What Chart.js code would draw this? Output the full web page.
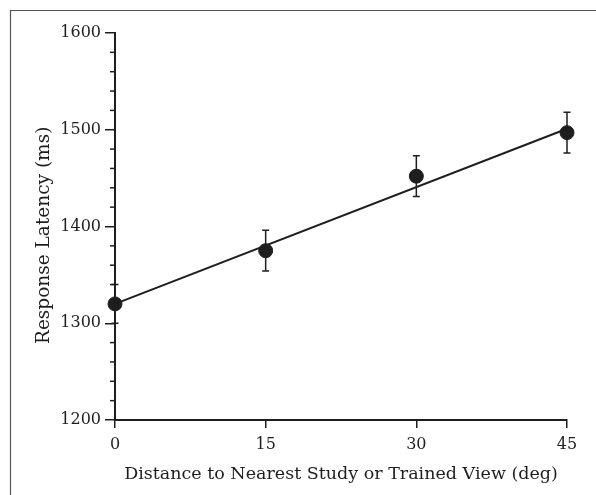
<!DOCTYPE html>
<html>
<head>
<meta charset="utf-8">
<script src="https://cdn.jsdelivr.net/npm/chart.js@4.4.0/dist/chart.umd.min.js"></script>
<style>
html,body{margin:0;padding:0;background:#fff;}
#wrap{width:596px;height:495px;position:relative;}
</style>
</head>
<body>
<div id="wrap"><canvas id="c" width="596" height="495"></canvas></div>
<script>
const distances = [0, 15, 30, 45];
const latencies = [1320, 1375, 1452, 1497];
const errors = [20, 21, 21, 21];
const fitX = [0, 45];
const fitY = [1320, 1501];
const xTicks = [0, 15, 30, 45];
const yMajorStep = 100;
const yMinorStep = 20;

const ink = '#1e1e1e';
const fontFamily = '"DejaVu Serif", "Liberation Serif", serif';

const errorBars = {
  id: 'errorBars',
  afterDatasetsDraw(chart) {
    const {ctx, scales: {x, y}} = chart;
    ctx.save();
    ctx.strokeStyle = ink;
    ctx.lineWidth = 1.5;
    distances.forEach((d, i) => {
      const px = x.getPixelForValue(d);
      const top = y.getPixelForValue(latencies[i] + errors[i]);
      const bot = y.getPixelForValue(latencies[i] - errors[i]);
      ctx.beginPath();
      ctx.moveTo(px, top); ctx.lineTo(px, bot);
      ctx.moveTo(px - 3.5, top); ctx.lineTo(px + 3.5, top);
      ctx.moveTo(px - 3.5, bot); ctx.lineTo(px + 3.5, bot);
      ctx.stroke();
    });
    ctx.restore();
  }
};

const minorTicks = {
  id: 'minorTicks',
  afterDraw(chart) {
    const {ctx, scales: {x, y}} = chart;
    ctx.save();
    ctx.strokeStyle = ink;
    ctx.lineWidth = 1.5;
    y.ticks.forEach(t => {
      if (t.value % yMajorStep !== 0) {
        const py = y.getPixelForValue(t.value);
        ctx.beginPath();
        ctx.moveTo(x.left - 5, py); ctx.lineTo(x.left, py);
        ctx.stroke();
      }
    });
    // frame
    ctx.strokeStyle = '#555';
    ctx.lineWidth = 1.2;
    ctx.beginPath();
    ctx.moveTo(10.5, 495); ctx.lineTo(10.5, 10.5); ctx.lineTo(596, 10.5);
    ctx.stroke();
    ctx.restore();
  }
};

new Chart(document.getElementById('c'), {
  type: 'scatter',
  data: {
    datasets: [
      {
        type: 'line',
        data: fitX.map((v, i) => ({x: v, y: fitY[i]})),
        borderColor: ink,
        borderWidth: 2,
        pointRadius: 0,
        fill: false,
        clip: false
      },
      {
        data: distances.map((v, i) => ({x: v, y: latencies[i]})),
        backgroundColor: ink,
        borderColor: ink,
        pointRadius: 7,
        pointHoverRadius: 7,
        clip: false
      }
    ]
  },
  options: {
    responsive: false,
    animation: false,
    events: [],
    layout: {padding: {left: 0, right: 29, top: 33, bottom: 10}},
    plugins: {legend: {display: false}, tooltip: {enabled: false}},
    scales: {
      x: {
        type: 'linear',
        min: 0, max: 45,
        afterFit(s) { s.height = 65; },
        afterBuildTicks(s) { s.ticks = xTicks.map(v => ({value: v})); },
        border: {display: true, color: ink, width: 2},
        grid: {drawOnChartArea: false, color: ink, tickLength: 8, lineWidth: 1.5},
        ticks: {color: ink, font: {family: fontFamily, size: 16}, padding: 7, maxRotation: 0, autoSkip: false},
        title: {display: true, text: 'Distance to Nearest Study or Trained View (deg)', color: ink,
                font: {family: fontFamily, size: 17.5}, padding: {top: 2, bottom: 0}}
      },
      y: {
        min: 1200, max: 1600,
        afterFit(s) { s.width = 115; },
        border: {display: true, color: ink, width: 2},
        grid: {drawOnChartArea: false, tickLength: 10, lineWidth: 1.5,
               color: c => (c.tick && c.tick.value % yMajorStep === 0) ? ink : 'rgba(0,0,0,0)'},
        ticks: {stepSize: yMinorStep, color: ink, font: {family: fontFamily, size: 16}, padding: 4, autoSkip: false,
                callback: v => (v % yMajorStep === 0 ? String(v) : '')},
        title: {display: true, text: 'Response Latency (ms)\u00a0\u00a0\u00a0', color: ink,
                font: {family: fontFamily, size: 18.5}, padding: {top: 33, bottom: 0}}
      }
    }
  },
  plugins: [errorBars, minorTicks]
});
</script>
</body>
</html>
